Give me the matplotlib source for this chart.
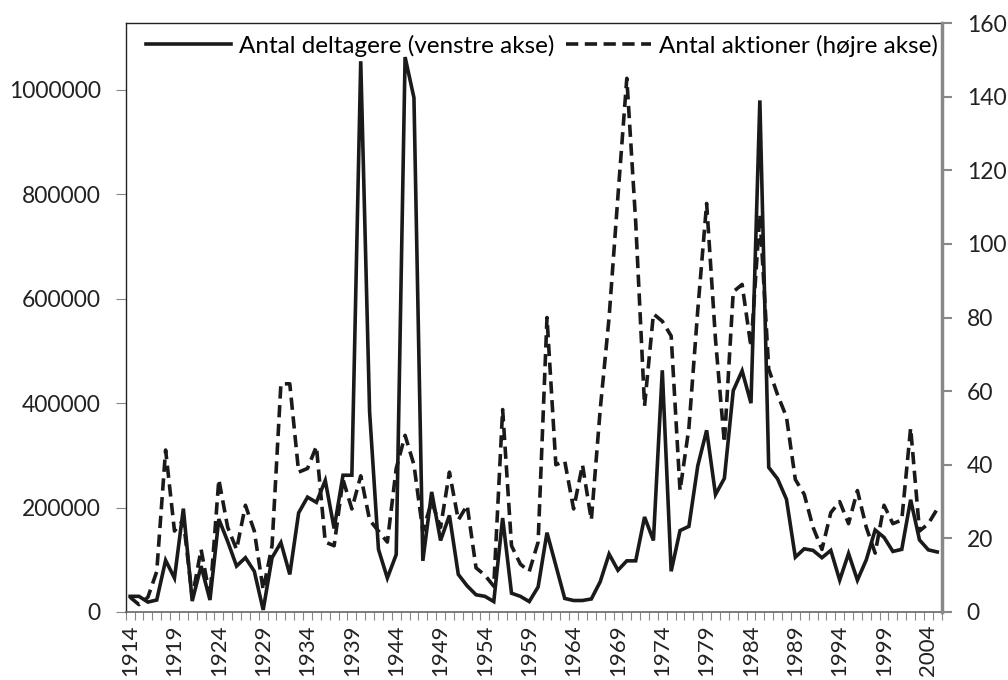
import matplotlib
matplotlib.use("Agg")
import matplotlib.pyplot as plt
from matplotlib.ticker import FixedLocator, StrMethodFormatter

plt.rcParams['font.family'] = ['Lato', 'DejaVu Sans']

years = list(range(1914, 2006))

# antal deltagere (venstre akse)
deltagere = [
    30000, 30000, 19000, 23000, 99000, 65000, 198000, 21000, 88000, 23000,
    178000, 135000, 88000, 104000, 78000, 4000, 104000, 133000, 72000, 190000,
    220000, 210000, 252000, 160000, 262000, 262000, 1055000, 383000, 120000, 65000,
    110000, 1063000, 985000, 98000, 230000, 137000, 185000, 72000, 50000, 33000,
    30000, 20000, 180000, 36000, 30000, 20000, 48000, 152000, 89000, 26000,
    22000, 22000, 25000, 58000, 111000, 80000, 98000, 98000, 182000, 137000,
    463000, 78000, 156000, 164000, 280000, 348000, 225000, 256000, 424000, 462000,
    400000, 980000, 277000, 255000, 216000, 105000, 121000, 118000, 104000, 118000,
    61000, 112000, 61000, 100000, 157000, 143000, 116000, 120000, 215000, 138000,
    119000, 115000,
]

# antal aktioner (højre akse)
aktioner = [
    4, 2, 4, 11, 44, 22, 25, 4, 17, 4,
    36, 23, 17, 29, 22, 6, 18, 62, 62, 38,
    39, 45, 19, 18, 36, 28, 37, 25, 22, 19,
    39, 48, 40, 22, 30, 23, 38, 25, 29, 12,
    10, 7, 55, 18, 13, 11, 19, 80, 40, 41,
    28, 40, 25, 55, 80, 113, 145, 106, 56, 81,
    79, 75, 33, 50, 82, 111, 74, 46, 87, 89,
    72, 108, 66, 59, 53, 36, 32, 23, 17, 27,
    30, 24, 33, 23, 16, 29, 24, 25, 50, 22,
    24, 28,
]

label_years = years[::5]

fig = plt.figure(figsize=(10.08, 6.8), dpi=100)
ax = fig.add_axes([0.1247, 0.1, 0.8095, 0.866])
ax2 = ax.twinx()

fs = 17.5
line_col = '#1a1a1a'
l1, = ax.plot(years, deltagere, color=line_col, lw=2.6, solid_joinstyle='miter',
              label='Antal deltagere (venstre akse)')
l2, = ax2.plot(years, aktioner, color=line_col, lw=2.6, dashes=(3.4, 1.8),
               label='Antal aktioner (højre akse)')

ax.set_xlim(years[0] - 0.5, years[-1] + 0.5)
ax.set_ylim(0, 1128000)
ax2.set_ylim(0, 160)

ax.set_yticks(range(0, 1000001, 200000))
ax.yaxis.set_major_formatter(StrMethodFormatter('{x:.0f}'))
ax2.set_yticks(range(0, 161, 20))

ax.set_xticks(label_years)
ax.set_xticklabels([str(y) for y in label_years], rotation=90)
ax.xaxis.set_minor_locator(FixedLocator([y - 0.5 for y in years] + [years[-1] + 0.5]))
ax.tick_params(axis='x', which='major', length=0, pad=9, labelsize=16, colors='#222222')
ax.tick_params(axis='x', which='minor', length=6, width=0.8, color='#888888')
ax.tick_params(axis='y', length=7, width=0.8, color='#888888', labelsize=16.5,
               labelcolor='#222222', pad=11)
ax2.tick_params(axis='y', length=7, width=1.5, color='#888888', labelsize=16.5,
                labelcolor='#222222', pad=11)

for s in ['top', 'left']:
    ax.spines[s].set_color('#222222')
    ax.spines[s].set_linewidth(1.0)
ax.spines['bottom'].set_color('#666666')
ax.spines['bottom'].set_linewidth(1.2)
ax2.spines['right'].set_color('#888888')
ax2.spines['right'].set_linewidth(2.5)
ax2.spines['top'].set_visible(False)
ax2.spines['left'].set_visible(False)
ax2.spines['bottom'].set_visible(False)

ax.legend(handles=[l1, l2], loc='upper center', bbox_to_anchor=(0.51, 1.005),
          ncol=2, frameon=False, fontsize=fs, handlelength=3.5,
          handletextpad=0.35, columnspacing=0.45, borderaxespad=0.2)

fig.savefig('out.png', dpi=100)
